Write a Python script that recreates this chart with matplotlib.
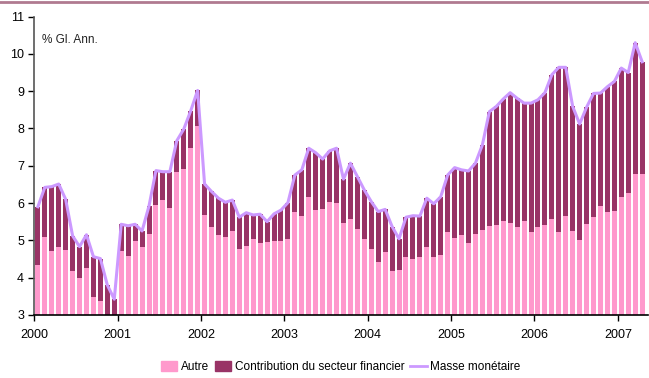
import numpy as np
import matplotlib
matplotlib.use("Agg")
import matplotlib.pyplot as plt
from matplotlib.lines import Line2D
from matplotlib.patches import Patch

# monthly growth, Jan 2000 .. Apr 2007 (% yoy)
masse = [5.90, 6.42, 6.44, 6.51, 6.10, 5.12, 4.83, 5.15, 4.56, 4.51, 3.80, 3.42,
         5.43, 5.39, 5.43, 5.25, 5.92, 6.87, 6.84, 6.84, 7.67, 7.98, 8.47, 9.02,
         6.51, 6.31, 6.13, 6.02, 6.08, 5.62, 5.74, 5.68, 5.70, 5.50, 5.71, 5.81,
         6.01, 6.75, 6.89, 7.47, 7.35, 7.18, 7.40, 7.47, 6.64, 7.07, 6.71, 6.35,
         6.04, 5.77, 5.83, 5.37, 5.04, 5.62, 5.66, 5.65, 6.13, 5.98, 6.17, 6.75,
         6.95, 6.89, 6.86, 7.07, 7.56, 8.45, 8.59, 8.79, 8.96, 8.81, 8.68, 8.68,
         8.77, 8.96, 9.44, 9.64, 9.64, 8.59, 8.12, 8.57, 8.94, 8.95, 9.12, 9.26,
         9.62, 9.50, 10.30, 9.79]
autre = [4.34, 5.09, 4.72, 4.82, 4.74, 4.18, 3.99, 4.26, 3.49, 3.38, 2.90, 2.85,
         4.72, 4.59, 4.97, 4.81, 5.17, 5.95, 6.07, 5.88, 6.84, 6.92, 7.48, 8.07,
         5.68, 5.37, 5.15, 5.10, 5.26, 4.77, 4.85, 5.04, 4.94, 4.96, 4.98, 4.99,
         5.03, 5.77, 5.66, 6.17, 5.80, 5.84, 6.04, 6.01, 5.46, 5.57, 5.31, 5.04,
         4.78, 4.42, 4.69, 4.18, 4.21, 4.56, 4.50, 4.54, 4.81, 4.54, 4.61, 5.22,
         5.07, 5.15, 4.94, 5.17, 5.28, 5.39, 5.41, 5.52, 5.46, 5.37, 5.52, 5.22,
         5.37, 5.41, 5.57, 5.23, 5.66, 5.25, 5.01, 5.44, 5.62, 5.93, 5.77, 5.79,
         6.15, 6.28, 6.78, 6.78]
years = ["2000", "2001", "2002", "2003", "2004", "2005", "2006", "2007"]

masse = np.array(masse)
autre = np.array(autre)
financier = masse - autre
x = np.arange(len(masse)) + 0.5

fig = plt.figure(figsize=(6.49, 3.78), dpi=100)
plt.rcParams['font.family'] = ['Liberation Sans', 'DejaVu Sans']
ax = fig.add_axes([0.053, 0.167, 0.945, 0.789])

ax.bar(x, autre, width=0.72, color='#ff99cc', linewidth=0)
ax.bar(x, financier, bottom=autre, width=0.72, color='#993366', linewidth=0)
ax.plot(x, masse, color='#cc99ff', linewidth=2.2, solid_joinstyle='round')

ax.set_ylim(3, 11)
ax.set_xlim(0, 88.3)
ax.set_yticks(range(3, 12))
ax.set_xticks(np.arange(len(years)) * 12)
ax.set_xticklabels(years)
ax.tick_params(axis='both', labelsize=9, length=4, width=1, direction='out')
ax.tick_params(axis='x', pad=6)
for s in ['top', 'right']:
    ax.spines[s].set_visible(False)
ax.spines['left'].set_color('#555555')
ax.spines['bottom'].set_color('black')
ax.spines['left'].set_linewidth(1.2)
ax.spines['bottom'].set_linewidth(1.2)

ax.text(0.013, 0.92, "% Gl. Ann.", transform=ax.transAxes, fontsize=8.5,
        va='center', ha='left', color='#222222')

# thin band along the top edge
fig.add_artist(Line2D([0, 1], [0.995, 0.995], transform=fig.transFigure,
                      color='#b07a90', linewidth=2))

handles = [Patch(color='#ff99cc'), Patch(color='#993366'),
           Line2D([], [], color='#cc99ff', linewidth=2)]
fig.legend(handles, ["Autre", "Contribution du secteur financier", "Masse monétaire"],
           loc='lower center', bbox_to_anchor=(0.525, -0.015), ncol=3, frameon=False,
           fontsize=8.5, handlelength=1.4, handleheight=0.9, handletextpad=0.3,
           columnspacing=0.5)

fig.savefig("out.png", dpi=100)
